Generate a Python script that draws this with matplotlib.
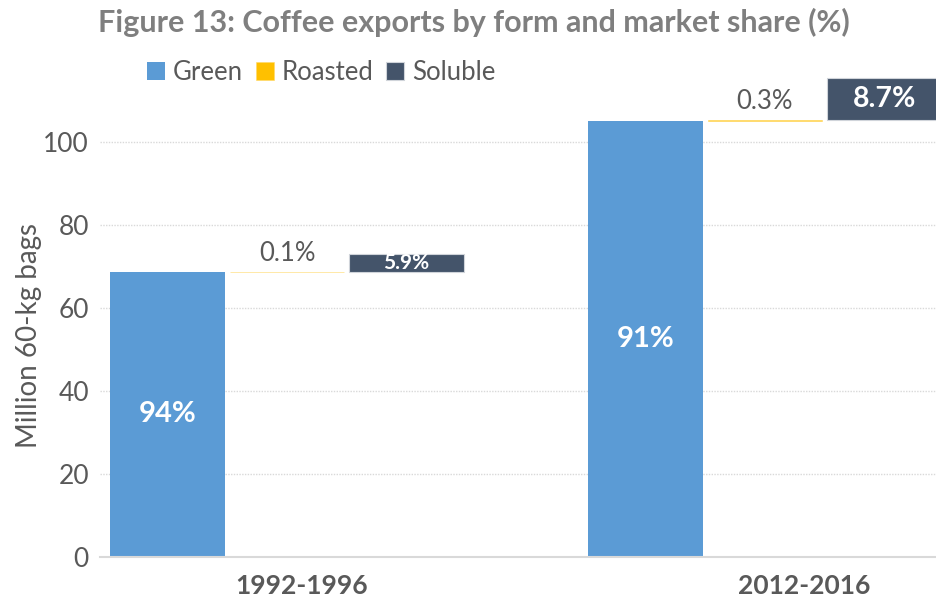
import matplotlib.pyplot as plt
import numpy as np

plt.rcParams['font.family'] = ['Lato', 'DejaVu Sans']

periods = ['1992-1996', '2012-2016']
green = [68.7, 105.1]
roasted = [0.07, 0.35]
soluble = [4.3, 10.0]

c_green = '#5B9BD5'
c_roasted = '#FFC000'
c_soluble = '#44546A'
txt = '#595959'

green = np.array(green)
roasted = np.array(roasted)
soluble = np.array(soluble)
total = green + roasted + soluble

fig = plt.figure(figsize=(9.36, 6), dpi=100)
ax = fig.add_axes([100 / 936, 0.0717, 852 / 936, 0.802])

centers = np.array([0.0, 4.0])
w = 0.955

# waterfall style: each form starts where the previous one ends
b_green = ax.bar(centers - 1, green, w, color=c_green, label='Green')
b_roast = ax.bar(centers, roasted, w, bottom=green, color=c_roasted,
                 edgecolor='#FFD966', linewidth=0.4, label='Roasted')
b_sol = ax.bar(centers + 1, soluble, w, bottom=green + roasted, color=c_soluble,
               edgecolor='#D0D4DA', linewidth=0.8, label='Soluble')

share_g = green / total * 100
share_r = roasted / total * 100
share_s = soluble / total * 100

ax.bar_label(b_green, labels=[f'{v:.0f}%' for v in share_g], label_type='center',
             color='white', fontsize=21, fontweight='bold')
ax.bar_label(b_roast, labels=[f'{v:.1f}%' for v in share_r], padding=4,
             color=txt, fontsize=18.5)
sol_sizes = [15, 20.5]
for i, rect in enumerate(b_sol.patches):
    ax.text(rect.get_x() + rect.get_width() / 2, rect.get_y() + rect.get_height() / 2,
            f'{share_s[i]:.1f}%', ha='center', va='center', color='white',
            fontsize=sol_sizes[i], fontweight='bold')

ax.set_xlim(-1.565, 5.565)
ax.set_ylim(0, 116)
ax.set_yticks([0, 20, 40, 60, 80, 100])
ax.yaxis.grid(True, color='#D9D9D9', linestyle=(0, (1, 1)), linewidth=1)
ax.set_axisbelow(True)
ax.tick_params(axis='y', length=0, labelsize=19, labelcolor=txt, pad=8)
ax.set_xticks([0.12, 4.33])
ax.set_xticklabels(periods, fontsize=19, fontweight='bold', color=txt)
ax.tick_params(axis='x', length=0, pad=12)
for s in ['left', 'right', 'top']:
    ax.spines[s].set_visible(False)
ax.spines['bottom'].set_color('#D9D9D9')
ax.spines['bottom'].set_linewidth(1.5)

ax.set_ylabel('Million 60-kg bags', fontsize=20, color=txt)
ax.yaxis.set_label_coords(-0.068, 0.46)

fig.text(0.506, 0.962, 'Figure 13: Coffee exports by form and market share (%)',
         ha='center', va='center', fontsize=22, fontweight='bold', color='#7F7F7F')

fig.legend(loc='center left', bbox_to_anchor=(137 / 936, 1 - 72 / 600), ncol=3,
           frameon=False, fontsize=18.5, handlelength=0.7, handleheight=0.7,
           handletextpad=0.3, columnspacing=0.5, labelcolor=txt, borderaxespad=0)

fig.savefig('out.png', dpi=100)
